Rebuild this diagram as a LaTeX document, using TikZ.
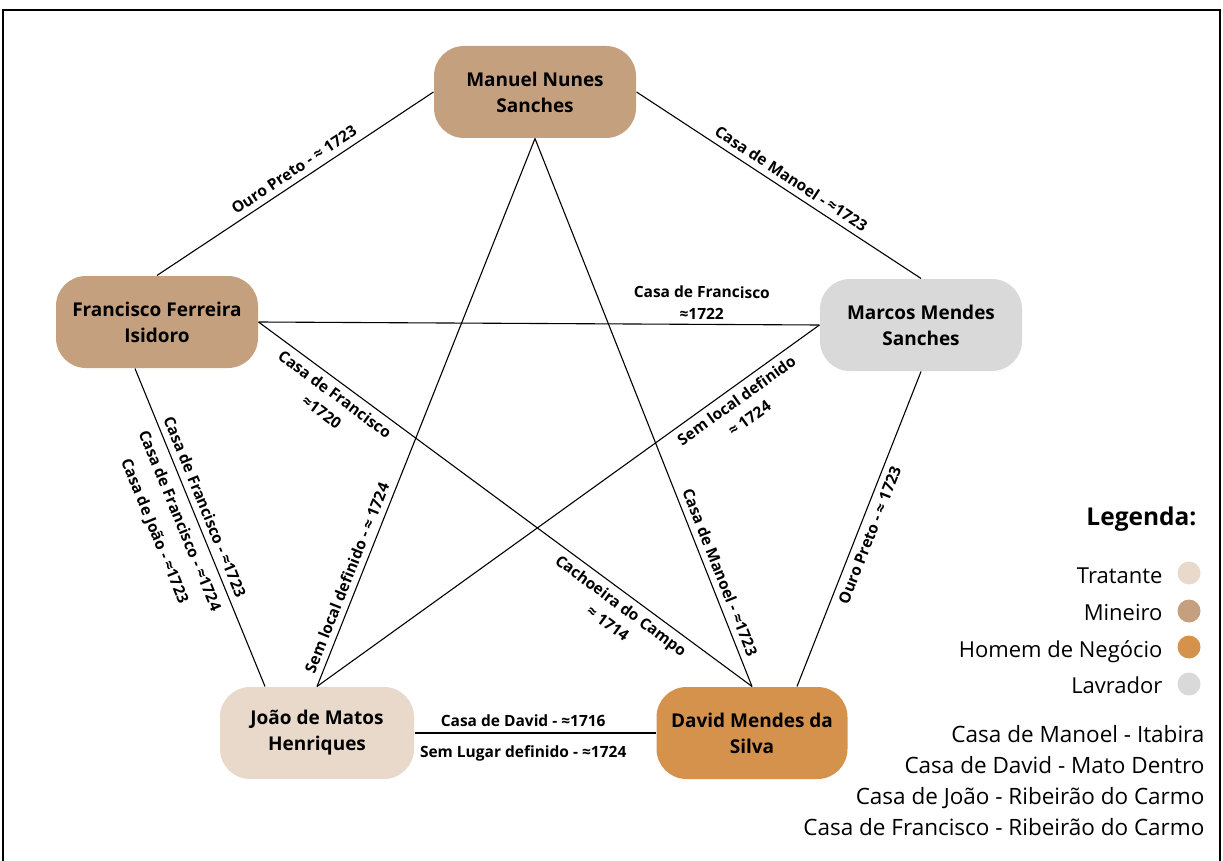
\documentclass[tikz,border=0pt]{standalone}
\usepackage{fontspec}
\setmainfont{Open Sans}
\usetikzlibrary{positioning,calc}
\definecolor{tratante}{HTML}{E8D9CA}
\definecolor{mineiro}{HTML}{C4A07F}
\definecolor{negocio}{HTML}{D4924C}
\definecolor{lavrador}{HTML}{D9D9D9}

\begin{document}
\begin{tikzpicture}
[x=1pt,y=-1pt,line width=1.1pt,
person/.style={rounded corners=30pt,minimum width=202pt,minimum height=92pt,inner sep=0pt,align=center,font=\fontsize{19}{26}\selectfont\bfseries},
lbl/.style={font=\fontsize{15.5}{22}\selectfont\bfseries,sloped,inner sep=6pt,align=center},
key/.style={anchor=base east,inner sep=0pt,font=\fontsize{22}{26}\selectfont},
dot/.style={circle,minimum size=23pt,inner sep=0pt}]
\useasboundingbox (0,0) rectangle (1223,861);
\draw (3,861) -- (3,10) -- (1220,10) -- (1220,861);

% people
\node[person,fill=mineiro] (man) at (535,92) {Manuel Nunes\\Sanches};
\node[person,fill=mineiro] (fra) at (157,322) {Francisco Ferreira\\Isidoro};
\node[person,fill=lavrador] (mar) at (921,325) {Marcos Mendes\\Sanches};
\node[person,fill=tratante,minimum width=194pt] (joa) at (317,733) {Jo\~ao de Matos\\Henriques};
\node[person,fill=negocio,minimum width=191pt] (dav) at (752,733) {David Mendes da\\Silva};

% links
\draw (man.west) -- node[lbl,above,pos=0.48]{Ouro Preto - ≈ 1723} (fra.north);
\draw (man.east) -- node[lbl,above,pos=0.52]{Casa de Manoel - ≈1723} (mar.north);
\draw (man.south) -- node[lbl,above,pos=0.81]{Sem local definido - ≈ 1724} (joa.north);
\draw (man.south) -- node[lbl,above,pos=0.8]{Casa de Manoel - ≈1723} (dav.north);
\draw (fra.east) -- node[lbl,above,pos=0.79,inner sep=4pt]{Casa de Francisco\\≈1722} (mar.west);
\draw (fra.east) -- node[lbl,below,pos=0.17]{Casa de Francisco\\≈1720}
  node[lbl,below,pos=0.75]{Cachoeira do Campo\\≈ 1714} (dav.north);
\draw ([xshift=-22pt]fra.south) -- node[lbl,above,pos=0.45]{Casa de Francisco - ≈1723}
  node[lbl,below,pos=0.46,inner sep=9pt,font=\fontsize{15.5}{27}\selectfont\bfseries]{Casa de Francisco - ≈1724\\Casa de João - ≈1723} ([xshift=-52pt]joa.north);
\draw (mar.west) -- node[lbl,below,pos=0.18]{Sem local definido\\≈ 1724} (joa.north);
\draw (mar.south) -- node[lbl,below,pos=0.505]{Ouro Preto - ≈ 1723} ([xshift=45pt]dav.north);
\draw (joa.east) -- node[lbl,above,pos=0.45]{Casa de David - ≈1716}
  node[lbl,below=6pt,pos=0.45]{Sem Lugar definido - ≈1724} (dav.west);

% legend
\node[key,font=\fontsize{24.5}{28}\selectfont\bfseries] (leg) at (1197,525) {Legenda:};
\node[dot,fill=tratante] (d1) at (1189,573) {};
\node[dot,fill=mineiro] (d2) at (1189,611) {};
\node[dot,fill=negocio] (d3) at (1189,647) {};
\node[dot,fill=lavrador] (d4) at (1189,684) {};
\node[key] (k1) at (1163,583) {Tratante};
\node[key] (k2) at (1163,620) {Mineiro};
\node[key] (k3) at (1163,657) {Homem de Negócio};
\node[key] (k4) at (1163,693) {Lavrador};
\node[key,font=\fontsize{22.5}{26}\selectfont] (c1) at (1205,742) {Casa de Manoel - Itabira};
\node[key,font=\fontsize{22.5}{26}\selectfont] (c2) at (1205,773) {Casa de David - Mato Dentro};
\node[key,font=\fontsize{22.5}{26}\selectfont] (c3) at (1205,804) {Casa de João - Ribeirão do Carmo};
\node[key,font=\fontsize{22.5}{26}\selectfont] (c4) at (1205,835) {Casa de Francisco - Ribeirão do Carmo};
\end{tikzpicture}
\end{document}
